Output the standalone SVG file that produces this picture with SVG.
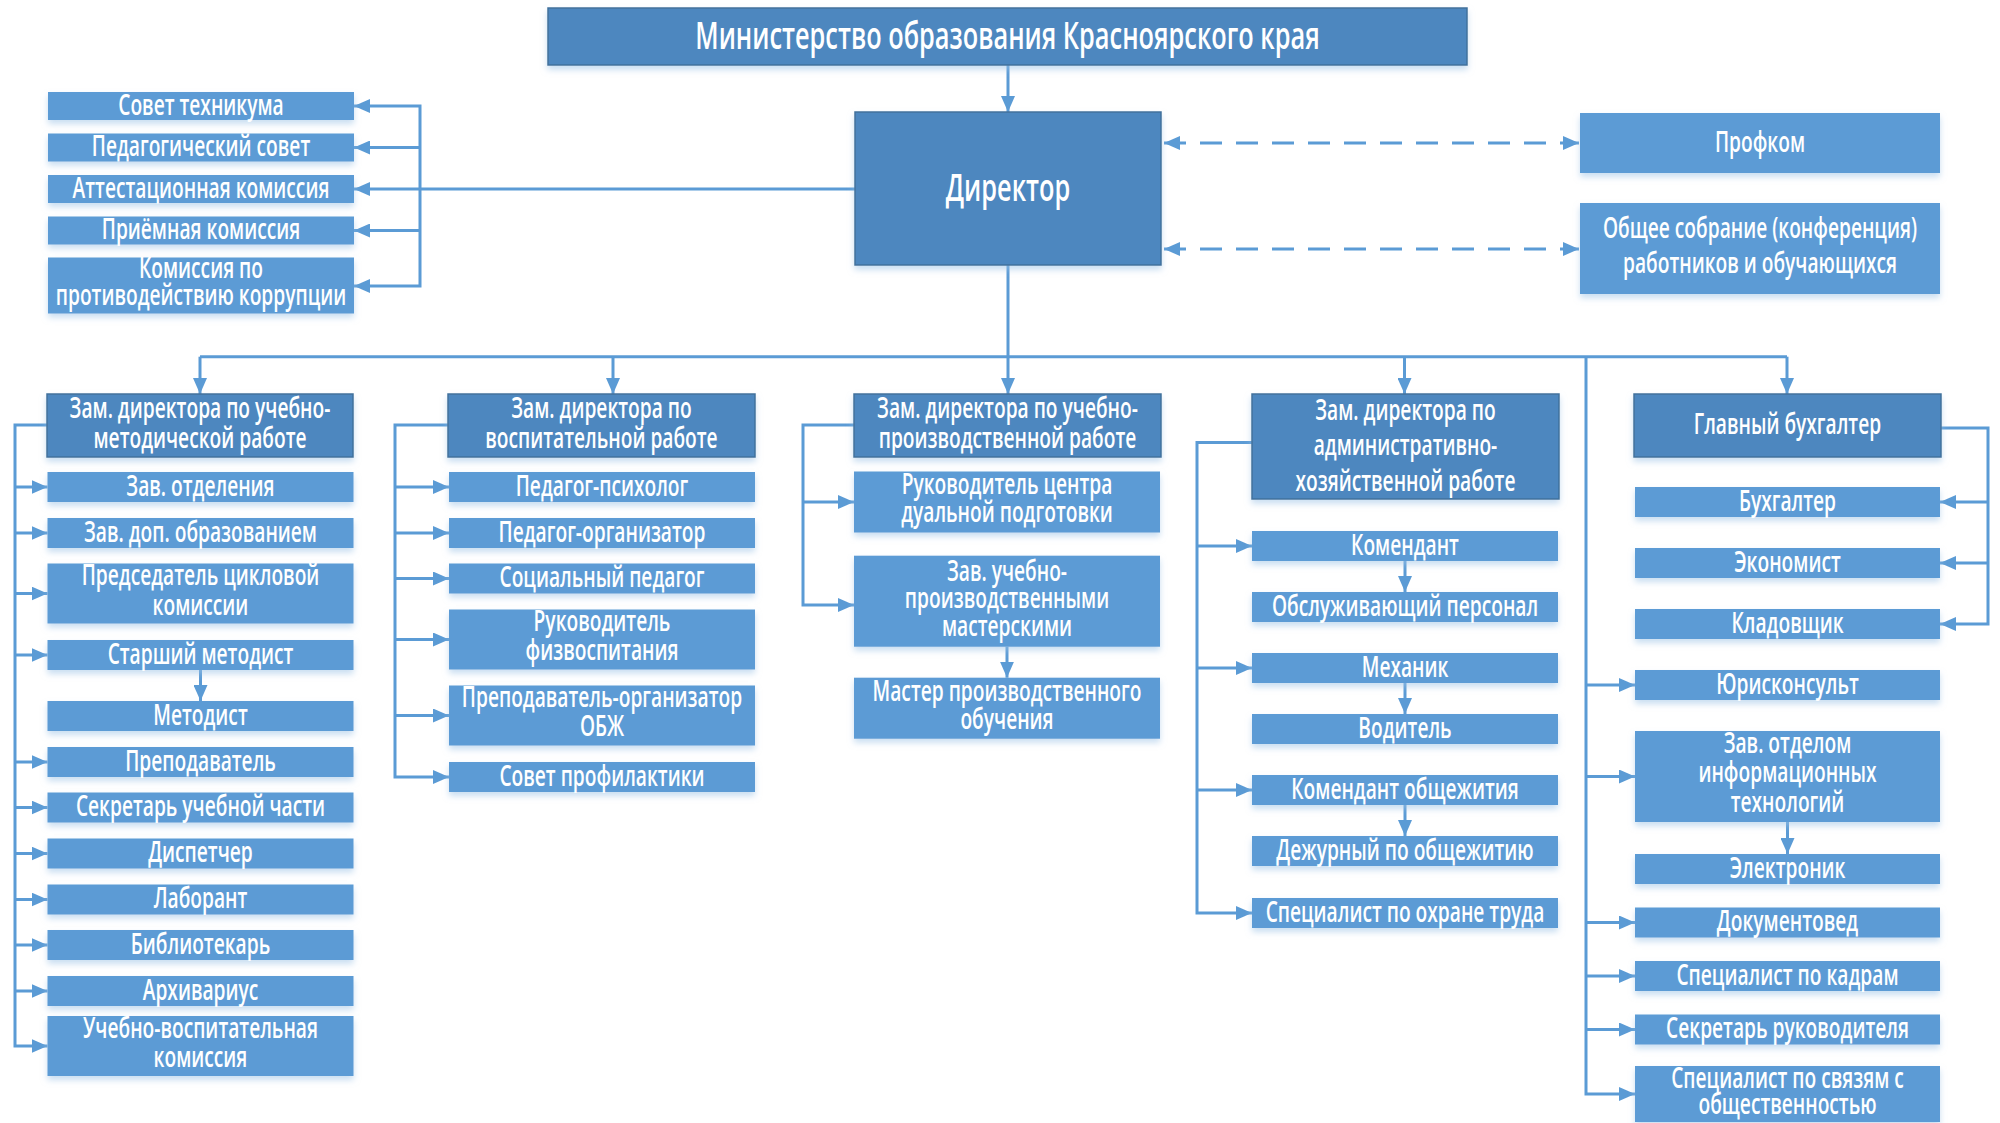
<svg xmlns="http://www.w3.org/2000/svg" width="2000" height="1123" viewBox="0 0 2000 1123">
<defs>
<style>
.n{fill:#5b9bd5;filter:url(#sh)}
.h{fill:#4d87bf;stroke:#41719c;stroke-width:1.5;filter:url(#sh)}
.t{font-family:"Open Sans","Liberation Sans",sans-serif;font-size:28px;font-weight:600;fill:#fff;text-anchor:middle;transform-box:fill-box;transform-origin:50% 50%;transform:scaleX(0.685)}
.big{font-size:37px}
.c{fill:none;stroke:#5b9bd5;stroke-width:3}
.a{marker-end:url(#ah)}
.d{stroke-dasharray:22 14;marker-start:url(#ah);marker-end:url(#ah)}
</style>
<marker id="ah" viewBox="0 0 16 14" refX="16" refY="7" markerWidth="16" markerHeight="14" markerUnits="userSpaceOnUse" orient="auto-start-reverse"><path d="M0,0 L16,7 L0,14 z" fill="#5b9bd5"/></marker>
<filter id="sh" x="-5%" y="-20%" width="110%" height="170%"><feDropShadow dx="0" dy="4" stdDeviation="3" flood-color="#9dc3e6" flood-opacity="0.55"/></filter>
</defs>
<rect width="2000" height="1123" fill="#fff"/>

<g id="connectors">
<path class="c a" d="M1008,65 V112"/>
<path class="c a" d="M1008,265 V394"/>
<path class="c" d="M200,356.7 H1787"/>
<path class="c a" d="M200,356.7 V394"/>
<path class="c a" d="M613,356.7 V394"/>
<path class="c a" d="M1404.5,356.7 V394"/>
<path class="c a" d="M1787,356.7 V394"/>
<path class="c a" d="M855,189 H354"/>
<path class="c a" d="M420,189 V106 H354"/>
<path class="c a" d="M420,147.5 H354"/>
<path class="c a" d="M420,230.5 H354"/>
<path class="c a" d="M420,189 V286 H354"/>
<path class="c d" d="M1164,143 H1579"/>
<path class="c d" d="M1164,249 H1579"/>
<path class="c a" d="M47,425 H15 V1046 H47.5"/>
<path class="c a" d="M15,487 H47.5"/>
<path class="c a" d="M15,533 H47.5"/>
<path class="c a" d="M15,593.5 H47.5"/>
<path class="c a" d="M15,655 H47.5"/>
<path class="c a" d="M15,762 H47.5"/>
<path class="c a" d="M15,807.5 H47.5"/>
<path class="c a" d="M15,853.5 H47.5"/>
<path class="c a" d="M15,899.5 H47.5"/>
<path class="c a" d="M15,945 H47.5"/>
<path class="c a" d="M15,991 H47.5"/>
<path class="c a" d="M200.5,670 V701"/>
<path class="c a" d="M448,425 H395 V777 H449"/>
<path class="c a" d="M395,487 H449"/>
<path class="c a" d="M395,533 H449"/>
<path class="c a" d="M395,578.5 H449"/>
<path class="c a" d="M395,639.5 H449"/>
<path class="c a" d="M395,715.5 H449"/>
<path class="c a" d="M854,425 H803 V605 H854"/>
<path class="c a" d="M803,502 H854"/>
<path class="c a" d="M1007,646.7 V677.7"/>
<path class="c a" d="M1252,442.5 H1197 V913 H1252"/>
<path class="c a" d="M1197,546 H1252"/>
<path class="c a" d="M1197,668 H1252"/>
<path class="c a" d="M1197,790 H1252"/>
<path class="c a" d="M1405,561 V592"/>
<path class="c a" d="M1405,683 V714"/>
<path class="c a" d="M1405,805 V836"/>
<path class="c a" d="M1586,356.7 V1094 H1635"/>
<path class="c a" d="M1586,685 H1635"/>
<path class="c a" d="M1586,776.5 H1635"/>
<path class="c a" d="M1586,922.5 H1635"/>
<path class="c a" d="M1586,976 H1635"/>
<path class="c a" d="M1586,1029.5 H1635"/>
<path class="c a" d="M1787.5,822 V854"/>
<path class="c a" d="M1941,428 H1988 V624 H1940"/>
<path class="c a" d="M1988,502 H1940"/>
<path class="c a" d="M1988,563 H1940"/>
</g>

<g id="ministry"><rect class="h" x="548" y="8" width="919" height="57"/><text class="t big" x="1007.5" y="49">Министерство образования Красноярского края</text></g>
<g id="director"><rect class="h" x="855" y="112" width="306" height="153"/><text class="t big" x="1008" y="201">Директор</text></g>
<g id="profkom"><rect class="n" x="1580" y="113" width="360" height="60"/><text class="t" x="1760" y="152">Профком</text></g>
<g id="sobranie"><rect class="n" x="1580" y="203" width="360" height="91"/><text class="t"><tspan x="1760" y="238">Общее собрание (конференция)</tspan><tspan x="1760" y="273">работников и обучающихся</tspan></text></g>

<g id="sovet-tech"><rect class="n" x="48" y="92" width="306" height="28"/><text class="t" x="201" y="115">Совет техникума</text></g>
<g id="ped-sovet"><rect class="n" x="48" y="133.5" width="306" height="28"/><text class="t" x="201" y="156.5">Педагогический совет</text></g>
<g id="attest"><rect class="n" x="48" y="175" width="306" height="28"/><text class="t" x="201" y="198">Аттестационная комиссия</text></g>
<g id="priem"><rect class="n" x="48" y="216.5" width="306" height="28"/><text class="t" x="201" y="239.5">Приёмная комиссия</text></g>
<g id="korrup"><rect class="n" x="48" y="257.5" width="306" height="56"/><text class="t"><tspan x="201" y="278.5">Комиссия по</tspan><tspan x="201" y="305">противодействию коррупции</tspan></text></g>

<g id="zam-um"><rect class="h" x="47" y="394" width="306" height="63"/><text class="t"><tspan x="200" y="418.5">Зам. директора по учебно-</tspan><tspan x="200" y="448">методической работе</tspan></text></g>
<g id="zav-otd"><rect class="n" x="47.5" y="472" width="306" height="30"/><text class="t" x="200.5" y="496">Зав. отделения</text></g>
<g id="zav-dop"><rect class="n" x="47.5" y="518" width="306" height="30"/><text class="t" x="200.5" y="542">Зав. доп. образованием</text></g>
<g id="predsed"><rect class="n" x="47.5" y="563.5" width="306" height="60"/><text class="t"><tspan x="200.5" y="585.5">Председатель цикловой</tspan><tspan x="200.5" y="615">комиссии</tspan></text></g>
<g id="st-metod"><rect class="n" x="47.5" y="640" width="306" height="30"/><text class="t" x="200.5" y="664">Старший методист</text></g>
<g id="metod"><rect class="n" x="47.5" y="701" width="306" height="30"/><text class="t" x="200.5" y="725">Методист</text></g>
<g id="prepod"><rect class="n" x="47.5" y="747" width="306" height="30"/><text class="t" x="200.5" y="771">Преподаватель</text></g>
<g id="sekr-uch"><rect class="n" x="47.5" y="792.5" width="306" height="30"/><text class="t" x="200.5" y="816.5">Секретарь учебной части</text></g>
<g id="disp"><rect class="n" x="47.5" y="838.5" width="306" height="30"/><text class="t" x="200.5" y="862.5">Диспетчер</text></g>
<g id="labor"><rect class="n" x="47.5" y="884.5" width="306" height="30"/><text class="t" x="200.5" y="908.5">Лаборант</text></g>
<g id="bibl"><rect class="n" x="47.5" y="930" width="306" height="30"/><text class="t" x="200.5" y="954">Библиотекарь</text></g>
<g id="arhiv"><rect class="n" x="47.5" y="976" width="306" height="30"/><text class="t" x="200.5" y="1000">Архивариус</text></g>
<g id="uvk"><rect class="n" x="47.5" y="1016" width="306" height="60"/><text class="t"><tspan x="200.5" y="1038">Учебно-воспитательная</tspan><tspan x="200.5" y="1067">комиссия</tspan></text></g>

<g id="zam-vosp"><rect class="h" x="448" y="394" width="307" height="63"/><text class="t"><tspan x="601.5" y="418.5">Зам. директора по</tspan><tspan x="601.5" y="448">воспитательной работе</tspan></text></g>
<g id="ped-psih"><rect class="n" x="449" y="472" width="306" height="30"/><text class="t" x="602" y="496">Педагог-психолог</text></g>
<g id="ped-org"><rect class="n" x="449" y="518" width="306" height="30"/><text class="t" x="602" y="542">Педагог-организатор</text></g>
<g id="soc-ped"><rect class="n" x="449" y="563.5" width="306" height="30"/><text class="t" x="602" y="587.5">Социальный педагог</text></g>
<g id="fizvosp"><rect class="n" x="449" y="609.5" width="306" height="60"/><text class="t"><tspan x="602" y="631.5">Руководитель</tspan><tspan x="602" y="660">физвоспитания</tspan></text></g>
<g id="obzh"><rect class="n" x="449" y="685.5" width="306" height="60"/><text class="t"><tspan x="602" y="707.5">Преподаватель-организатор</tspan><tspan x="602" y="736">ОБЖ</tspan></text></g>
<g id="sovet-prof"><rect class="n" x="449" y="762" width="306" height="30"/><text class="t" x="602" y="786">Совет профилактики</text></g>

<g id="zam-pr"><rect class="h" x="854" y="394" width="307" height="63"/><text class="t"><tspan x="1007.5" y="418.5">Зам. директора по учебно-</tspan><tspan x="1007.5" y="448">производственной работе</tspan></text></g>
<g id="dual"><rect class="n" x="854" y="471.5" width="306" height="61"/><text class="t"><tspan x="1007" y="494.5">Руководитель центра</tspan><tspan x="1007" y="522">дуальной подготовки</tspan></text></g>
<g id="masterskie"><rect class="n" x="854" y="555.7" width="306" height="91"/><text class="t"><tspan x="1007" y="581">Зав. учебно-</tspan><tspan x="1007" y="608.5">производственными</tspan><tspan x="1007" y="636">мастерскими</tspan></text></g>
<g id="master"><rect class="n" x="854" y="677.7" width="306" height="61"/><text class="t"><tspan x="1007" y="701.5">Мастер производственного</tspan><tspan x="1007" y="729">обучения</tspan></text></g>

<g id="zam-ahr"><rect class="h" x="1252" y="394" width="307" height="105"/><text class="t"><tspan x="1405.5" y="420">Зам. директора по</tspan><tspan x="1405.5" y="455.5">административно-</tspan><tspan x="1405.5" y="491">хозяйственной работе</tspan></text></g>
<g id="komend"><rect class="n" x="1252" y="531" width="306" height="30"/><text class="t" x="1405" y="555">Комендант</text></g>
<g id="obsl"><rect class="n" x="1252" y="592" width="306" height="30"/><text class="t" x="1405" y="616">Обслуживающий персонал</text></g>
<g id="mehanik"><rect class="n" x="1252" y="653" width="306" height="30"/><text class="t" x="1405" y="677">Механик</text></g>
<g id="voditel"><rect class="n" x="1252" y="714" width="306" height="30"/><text class="t" x="1405" y="738">Водитель</text></g>
<g id="komend-obsh"><rect class="n" x="1252" y="775" width="306" height="30"/><text class="t" x="1405" y="799">Комендант общежития</text></g>
<g id="dezhur"><rect class="n" x="1252" y="836" width="306" height="30"/><text class="t" x="1405" y="860">Дежурный по общежитию</text></g>
<g id="ohrana"><rect class="n" x="1252" y="898" width="306" height="30"/><text class="t" x="1405" y="922">Специалист по охране труда</text></g>

<g id="gl-buh"><rect class="h" x="1634" y="394" width="307" height="63"/><text class="t" x="1787.5" y="434">Главный бухгалтер</text></g>
<g id="buh"><rect class="n" x="1635" y="487" width="305" height="30"/><text class="t" x="1787.5" y="511">Бухгалтер</text></g>
<g id="ekonom"><rect class="n" x="1635" y="548" width="305" height="30"/><text class="t" x="1787.5" y="572">Экономист</text></g>
<g id="klad"><rect class="n" x="1635" y="609" width="305" height="30"/><text class="t" x="1787.5" y="633">Кладовщик</text></g>
<g id="yurist"><rect class="n" x="1635" y="670" width="305" height="30"/><text class="t" x="1787.5" y="694">Юрисконсульт</text></g>
<g id="zav-it"><rect class="n" x="1635" y="731" width="305" height="91"/><text class="t"><tspan x="1787.5" y="753">Зав. отделом</tspan><tspan x="1787.5" y="782.5">информационных</tspan><tspan x="1787.5" y="812">технологий</tspan></text></g>
<g id="elektronik"><rect class="n" x="1635" y="854" width="305" height="30"/><text class="t" x="1787.5" y="878">Электроник</text></g>
<g id="dokument"><rect class="n" x="1635" y="907.5" width="305" height="30"/><text class="t" x="1787.5" y="931.5">Документовед</text></g>
<g id="kadry"><rect class="n" x="1635" y="961" width="305" height="30"/><text class="t" x="1787.5" y="985">Специалист по кадрам</text></g>
<g id="sekr-ruk"><rect class="n" x="1635" y="1014.5" width="305" height="30"/><text class="t" x="1787.5" y="1038.5">Секретарь руководителя</text></g>
<g id="pr"><rect class="n" x="1635" y="1066" width="305" height="56"/><text class="t"><tspan x="1787.5" y="1088">Специалист по связям с</tspan><tspan x="1787.5" y="1114">общественностью</tspan></text></g>
</svg>
